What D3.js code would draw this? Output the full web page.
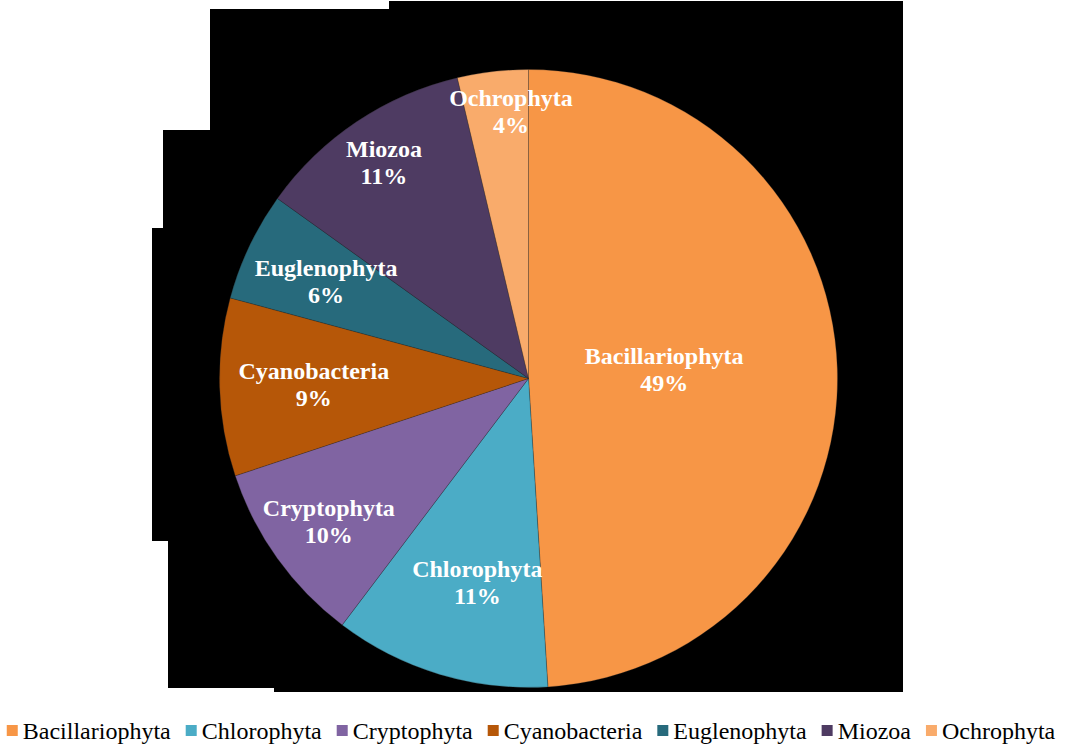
<!DOCTYPE html>
<html>
<head>
<meta charset="utf-8">
<script src="https://cdn.jsdelivr.net/npm/d3@7"></script>
<style>
  html, body { margin: 0; padding: 0; background: #ffffff; }
  svg { display: block; }
</style>
</head>
<body>
<svg id="chart" width="1067" height="751"></svg>
<script>
// Phytoplankton composition by phylum (share of total, %)
const categories = ["Bacillariophyta", "Chlorophyta", "Cryptophyta", "Cyanobacteria", "Euglenophyta", "Miozoa", "Ochrophyta"];
const shares = [49.0, 11.3, 9.6, 9.3, 5.7, 11.4, 3.7];
const colors = ["#F79646", "#4BACC6", "#8064A2", "#B65708", "#276A7C", "#4E3B62", "#F9AB6B"];
// label placement per slice: distance out along the bisector (fraction of radius)
// and a small turn (degrees) so long names stay inside their slice
const labelDepth = [0.44, 0.683, 0.795, 0.695, 0.725, 0.84, 0.865];
const labelTurn = [-1.8, -2.7, 0, 0, 0, 0, 2.9];

const W = 1067, H = 751;
const cx = 528.5, cy = 378.5, R = 309;
const serif = "'Liberation Serif', 'Times New Roman', Times, serif";

const svg = d3.select("#chart");

// dark backdrop behind the plot area
const backdrop = [[210, 9], [389, 9], [389, 1], [903, 1], [903, 692], [274, 692], [274, 688],
                  [168, 688], [168, 541], [152, 541], [152, 228], [163, 228], [163, 130], [210, 130]];
svg.append("path")
  .attr("d", d3.line()(backdrop) + "Z")
  .attr("fill", "#000");

const data = categories.map((c, i) => ({
  name: c, value: shares[i], color: colors[i], depth: labelDepth[i], turn: labelTurn[i]
}));
const total = d3.sum(shares);

const pie = d3.pie().sort(null).value(d => d.value);
const arcs = pie(data);
const arc = d3.arc().innerRadius(0).outerRadius(R);

const g = svg.append("g").attr("transform", `translate(${cx},${cy})`);

g.selectAll("path.slice")
  .data(arcs)
  .join("path")
  .attr("class", "slice")
  .attr("d", arc)
  .attr("fill", d => d.data.color)
  .attr("stroke", "rgba(40,40,40,0.45)")
  .attr("stroke-width", 0.6);

// data labels: name + rounded percentage
const labels = g.selectAll("text.lbl")
  .data(arcs)
  .join("text")
  .attr("class", "lbl")
  .attr("transform", d => {
    const a = (d.startAngle + d.endAngle) / 2 + d.data.turn * Math.PI / 180;
    const rr = R * d.data.depth;
    return `translate(${Math.sin(a) * rr},${-Math.cos(a) * rr})`;
  })
  .attr("text-anchor", "middle")
  .attr("font-family", serif)
  .attr("font-weight", "bold")
  .attr("font-size", 24)
  .attr("fill", "#ffffff");

labels.append("tspan").attr("x", 0).attr("y", -6).text(d => d.data.name);
labels.append("tspan").attr("x", 0).attr("y", 21).text(d => Math.round(d.data.value / total * 100) + "%");

// legend along the bottom, centred
const legend = svg.append("g");
const legendFont = 24;
const items = legend.selectAll("g.item").data(data).join("g").attr("class", "item");
items.append("rect")
  .attr("width", 11).attr("height", 11)
  .attr("y", 725)
  .attr("fill", d => d.color);
items.append("text")
  .attr("x", 16)
  .attr("y", 739)
  .attr("font-family", serif)
  .attr("font-size", legendFont)
  .attr("fill", "#000")
  .text(d => d.name);

let x = 0;
const gap = 15;
const offsets = [];
items.each(function () {
  offsets.push(x);
  const tw = d3.select(this).select("text").node().getComputedTextLength();
  x += 16 + tw + gap;
});
const totalW = x - gap;
const startX = 531 - totalW / 2;
items.attr("transform", (d, i) => `translate(${startX + offsets[i]},0)`);
</script>
</body>
</html>
